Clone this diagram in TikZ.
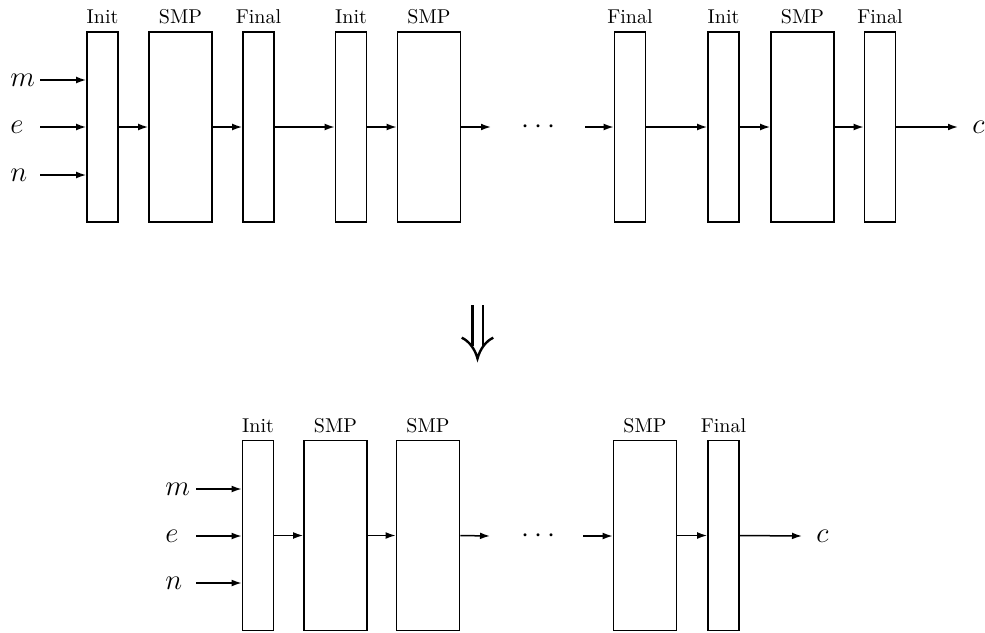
\documentclass[tikz,border=0pt]{standalone}
\usetikzlibrary{arrows.meta}
\begin{document}
\begin{tikzpicture}[x=0.5pt,y=-0.5pt,
  blk/.style={draw, line width=0.8pt, minimum height=95pt, inner sep=0pt},
  thinblk/.style={blk, minimum width=15.5pt},
  wideblk/.style={blk, minimum width=31.5pt},
  flow/.style={-{Latex[length=5pt,width=3.4pt]}, line width=0.75pt},
  var/.style={anchor=west, inner sep=0pt, font=\Large},
  gap/.style={inner sep=0pt, font=\Large}]
\useasboundingbox (0,0) rectangle (985,632);

% ---------- unrolled chain ----------
\node[thinblk, label=above:Init]  (ti1) at (102.5,127) {};
\node[wideblk, label=above:SMP]   (ts1) at (180.5,127) {};
\node[thinblk, label=above:Final] (tf1) at (258.5,127) {};
\node[thinblk, label=above:Init]  (ti2) at (351,127) {};
\node[wideblk, label=above:SMP]   (ts2) at (429,127) {};
\node[gap] (tdots) at (538.5,127) {$\cdots$};
\node[thinblk, label=above:Final] (tf3) at (630,127) {};
\node[thinblk, label=above:Init]  (ti3) at (723.5,127) {};
\node[wideblk, label=above:SMP]   (ts3) at (802.5,127) {};
\node[thinblk, label=above:Final] (tf4) at (880,127) {};

\node[var] (tm) at (10,80)  {$m$};
\node[var] (te) at (10,127) {$e$};
\node[var] (tn) at (10,175) {$n$};
\coordinate (tmin) at (40,80);
\coordinate (tein) at (40,127);
\coordinate (tnin) at (40,175);
\coordinate (tcut) at (491,127);
\coordinate (tres) at (585,127);
\coordinate (tout) at (958,127);
\node[var] (tc) at (972,127) {$c$};

\draw[flow] (tmin) -- (tmin -| ti1.west);
\draw[flow] (tein) -- (ti1.west);
\draw[flow] (tnin) -- (tnin -| ti1.west);
\draw[flow] (ti1) -- (ts1);
\draw[flow] (ts1) -- (tf1);
\draw[flow] (tf1) -- (ti2);
\draw[flow] (ti2) -- (ts2);
\draw[flow] (ts2.east) -- (tcut);
\draw[flow] (tres) -- (tf3.west);
\draw[flow] (tf3) -- (ti3);
\draw[flow] (ti3) -- (ts3);
\draw[flow] (ts3) -- (tf4);
\draw[flow] (tf4.east) -- (tout);

% ---------- implication symbol ----------
\begin{scope}[line width=1.2pt]
  \draw (472.3,305) -- (472.3,346);
  \draw (482.7,305) -- (482.7,346);
  \draw (461.7,337.7) .. controls (469,341) and (475,349) .. (477.5,358.5)
        .. controls (480,349) and (486,341) .. (493.3,337.7);
\end{scope}

% ---------- merged chain ----------
\node[thinblk, label=above:Init]  (bi)  at (258,535.5) {};
\node[wideblk, label=above:SMP]   (bs1) at (335.5,535.5) {};
\node[wideblk, label=above:SMP]   (bs2) at (428,535.5) {};
\node[gap] (bdots) at (538.5,536) {$\cdots$};
\node[wideblk, label=above:SMP]   (bs3) at (645,535.5) {};
\node[thinblk, label=above:Final] (bf)  at (723.5,535.5) {};

\node[var] (bm) at (165,489) {$m$};
\node[var] (be) at (165,536) {$e$};
\node[var] (bn) at (165,583) {$n$};
\coordinate (bmin) at (196,489);
\coordinate (bein) at (196,536);
\coordinate (bnin) at (196,583);
\coordinate (bcut) at (490,536);
\coordinate (bres) at (583,536);
\coordinate (bout) at (802,536);
\node[var] (bc) at (816,536) {$c$};

\draw[flow] (bmin) -- (bmin -| bi.west);
\draw[flow] (bein) -- (bein -| bi.west);
\draw[flow] (bnin) -- (bnin -| bi.west);
\draw[flow] (bi) -- (bs1);
\draw[flow] (bs1) -- (bs2);
\draw[flow] (bs2.east) -- (bcut);
\draw[flow] (bres) -- (bres -| bs3.west);
\draw[flow] (bs3) -- (bf);
\draw[flow] (bf.east) -- (bout);
\end{tikzpicture}
\end{document}
